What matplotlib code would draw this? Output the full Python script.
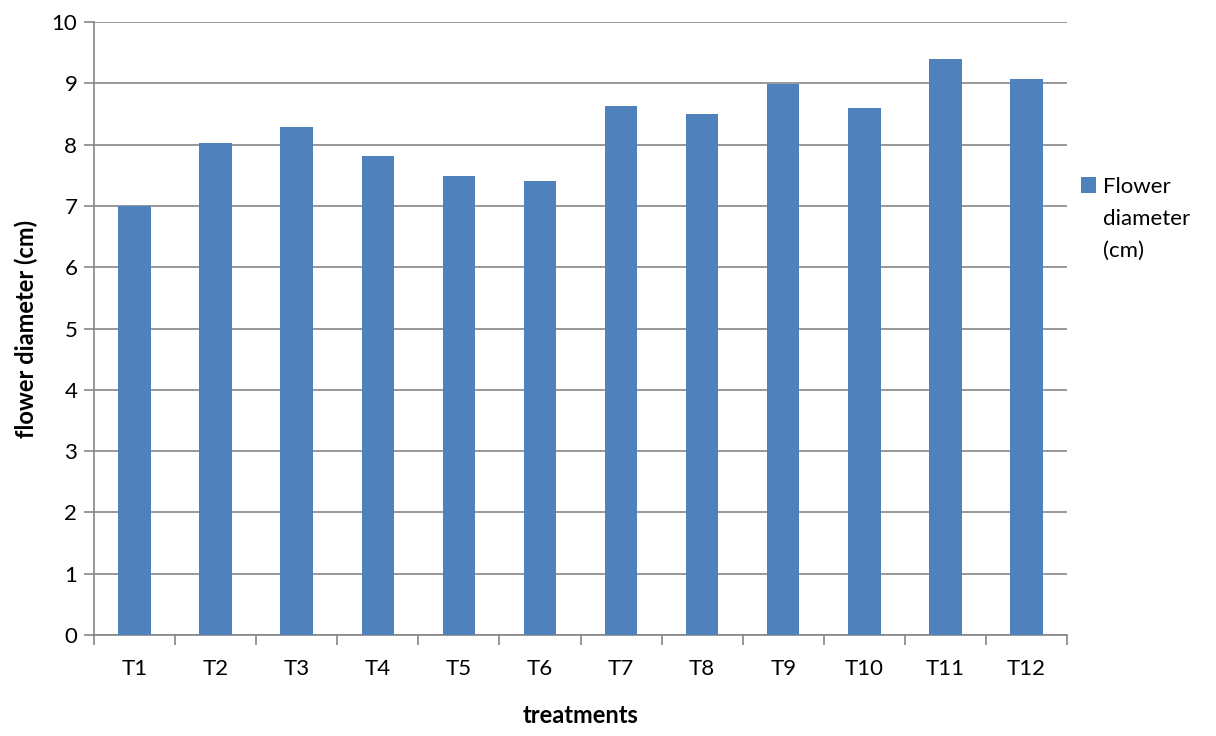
import matplotlib
matplotlib.use("Agg")
import matplotlib.pyplot as plt
import numpy as np

plt.rcParams['font.family'] = ['Lato', 'DejaVu Sans']

treatments = ["T1", "T2", "T3", "T4", "T5", "T6", "T7", "T8", "T9", "T10", "T11", "T12"]
diameter = [7.0, 8.03, 8.29, 7.82, 7.49, 7.40, 8.63, 8.50, 8.99, 8.60, 9.40, 9.07]
legend_lines = ["Flower", "diameter", "(cm)"]

BAR_COLOR = "#4F81BD"
GRID = "#868686"

fig = plt.figure(figsize=(12.16, 7.36), dpi=100)
ax = fig.add_axes([0.0773, 0.1372, 0.8002, 0.8328])

x = np.arange(len(treatments))
ax.bar(x, diameter, width=0.4, color=BAR_COLOR, zorder=3, label=legend_lines[0])

ax.set_xlim(-0.5, len(treatments) - 0.5)
ax.set_ylim(0, 10)
ax.set_yticks(range(0, 11))
ax.yaxis.grid(True, color=GRID, linewidth=1.2, zorder=0)

ax.set_xticks(x)
ax.set_xticklabels(treatments)
ax.set_xticks(np.arange(-0.5, len(treatments)), minor=True)
ax.tick_params(axis='x', which='major', length=0, pad=17, labelsize=16)
ax.tick_params(axis='x', which='minor', length=7, width=1.2, color=GRID, direction='out')
ax.tick_params(axis='y', length=7, width=1.2, color=GRID, labelsize=16, pad=5)

for s in ["top", "right"]:
    ax.spines[s].set_visible(False)
for s in ["left", "bottom"]:
    ax.spines[s].set_color(GRID)
    ax.spines[s].set_linewidth(1.2)

ax.set_ylabel("flower diameter (cm)", fontsize=17, fontweight='bold', labelpad=10)
ax.set_xlabel("treatments", fontsize=17, fontweight='bold', labelpad=18)

leg = ax.legend(loc='upper left', bbox_to_anchor=(1.014, 0.748), frameon=False,
                fontsize=16, handlelength=0.7, handleheight=0.7, handletextpad=0.3,
                borderaxespad=0, borderpad=0)

# remaining lines of the legend label, under "Flower"
fig.canvas.draw()
bb = leg.get_texts()[0].get_window_extent()
W, H = fig.get_size_inches() * fig.dpi
for i, line in enumerate(legend_lines[1:], start=1):
    fig.text(bb.x0 / W, (bb.y0 - 32 * i) / H, line, fontsize=16,
             ha='left', va='bottom')

fig.savefig("out.png", dpi=100)
